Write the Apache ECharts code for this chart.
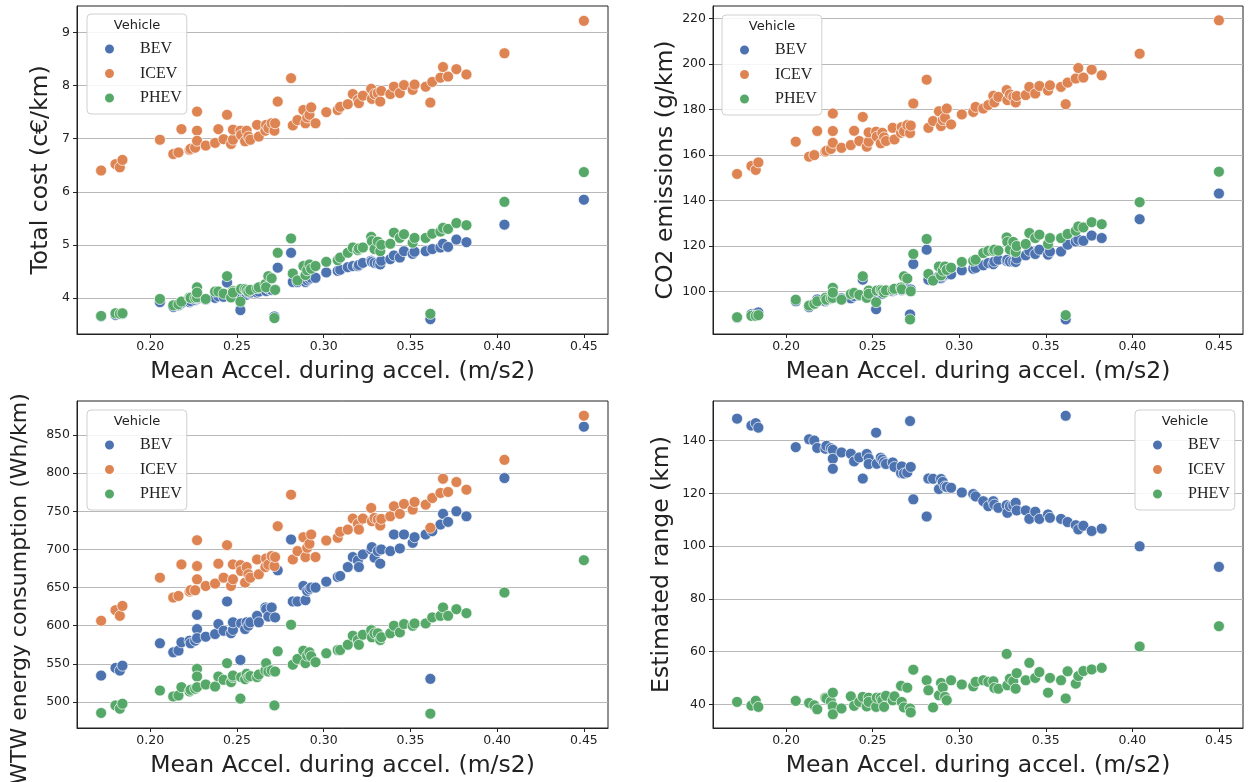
<!DOCTYPE html>
<html>
<head>
<meta charset="utf-8">
<script src="https://cdn.jsdelivr.net/npm/echarts@6/dist/echarts.min.js"></script>
<style>
html,body{margin:0;padding:0;background:#fff;}
#chart{width:1248px;height:782px;}
</style>
</head>
<body>
<div id="chart"></div>
<script>
// ---------- DATA ----------
const accel = [0.1717,0.180,0.1825,0.184,0.2056,0.2133,0.2163,0.218,0.2227,0.2233,
0.2259,0.227,0.227,0.227,0.232,0.2374,0.2393,0.2423,0.2443,0.2466,
0.2477,0.2477,0.252,0.2524,0.2547,0.2556,0.2566,0.2577,0.2616,0.2626,
0.2664,0.2668,0.2681,0.270,0.2716,0.272,0.2735,0.2812,0.2822,0.2849,
0.2883,0.2895,0.2905,0.2918,0.2928,0.2953,0.3015,0.3081,0.3095,0.3139,
0.3168,0.3197,0.3203,0.3226,0.3274,0.3278,0.3293,0.3312,0.3326,0.3332,
0.3384,0.3405,0.3439,0.3463,0.3513,0.3524,0.3588,0.3615,0.3626,0.3673,
0.3688,0.3717,0.3765,0.3823,0.4042,0.450];

const costBEV = [3.65,3.68,3.70,3.70,3.92,3.83,3.86,3.90,3.92,3.94,
3.96,3.98,4.00,4.10,3.97,4.00,4.03,4.02,4.29,4.01,
4.05,4.08,3.77,4.05,4.07,4.06,4.10,4.10,4.10,4.12,
4.15,4.13,4.17,4.15,3.65,4.16,4.57,4.85,4.30,4.30,
4.35,4.30,4.33,4.36,4.38,4.38,4.48,4.51,4.53,4.58,
4.60,4.60,4.62,4.66,4.70,4.68,4.66,4.65,4.63,4.70,
4.73,4.80,4.76,4.88,4.83,4.87,4.88,3.60,4.92,4.95,
5.02,4.96,5.10,5.05,5.38,5.85];
const costICEV = [6.40,6.52,6.46,6.60,6.98,6.71,6.74,7.18,6.79,6.81,
6.83,7.51,7.15,6.96,6.87,6.92,7.18,6.99,7.45,6.90,
6.98,7.17,7.15,7.07,6.95,7.15,7.04,6.98,7.26,7.04,
7.15,7.26,7.20,7.29,7.15,7.29,7.70,8.14,7.25,7.35,
7.54,7.29,7.40,7.45,7.59,7.29,7.50,7.54,7.60,7.65,
7.84,7.73,7.67,7.81,7.94,7.75,7.84,7.86,7.70,7.90,
7.84,7.98,7.86,8.01,7.92,8.02,7.98,7.68,8.07,8.15,
8.35,8.17,8.31,8.21,8.61,9.22];
const costPHEV = [3.66,3.71,3.70,3.71,3.98,3.86,3.88,3.93,4.01,4.00,
4.00,4.20,4.01,4.10,3.98,4.12,4.12,4.08,4.41,4.01,
4.13,4.10,3.93,4.17,4.17,4.15,4.12,4.15,4.18,4.20,
4.26,4.20,4.41,4.37,3.62,4.15,4.85,5.12,4.46,4.33,
4.60,4.43,4.52,4.63,4.55,4.60,4.68,4.71,4.76,4.85,
4.95,4.90,4.93,4.95,5.15,5.07,4.92,5.06,4.88,5.00,
5.02,5.23,5.13,5.20,5.04,5.13,5.13,3.70,5.21,5.25,
5.32,5.30,5.41,5.37,5.81,6.37];

const co2BEV = [88.4,90.0,90.3,90.8,95.7,93.1,94.6,96.5,95.7,96.2,
96.8,98.3,97.5,99.5,97.0,97.0,98.0,98.2,105.2,97.8,
98.8,99.4,92.2,98.8,99.3,99.0,100.0,100.2,100.2,100.6,
100.9,100.6,101.5,101.2,89.9,100.9,112.1,118.4,105.2,105.5,
106.7,105.8,106.5,107.2,107.7,107.5,109.3,110.0,110.4,111.5,
112.5,112.0,113.2,114.0,113.5,114.0,113.2,113.2,113.0,114.5,
115.9,117.9,116.5,118.4,116.2,117.6,117.6,87.7,120.6,122.0,
122.8,122.3,124.6,123.5,131.8,143.1];
const co2ICEV = [151.7,155.2,153.5,156.8,165.9,159.3,160.0,170.6,161.5,161.9,
162.7,178.3,170.6,165.4,163.2,164.4,170.7,166.2,176.8,163.7,
165.9,170.0,170.3,168.1,165.2,169.8,167.8,166.2,172.0,166.9,
169.8,172.3,170.5,173.2,169.7,173.0,182.7,193.2,172.0,175.0,
179.3,172.8,175.4,176.4,180.5,173.5,177.9,179.0,181.2,180.5,
182.0,186.1,183.2,185.6,188.6,184.2,186.7,185.6,183.2,186.0,
186.4,190.0,187.1,190.4,188.4,190.7,190.0,182.4,191.9,193.7,
198.3,194.1,197.6,195.1,204.6,219.3];
const co2PHEV = [88.7,89.3,89.3,89.6,96.4,93.8,94.6,95.7,97.2,96.4,
97.0,101.6,97.2,99.5,96.4,98.9,99.4,98.5,106.7,97.2,
100.4,99.0,95.3,100.4,100.7,100.4,99.5,100.5,100.8,101.2,
101.8,101.0,106.7,105.7,87.7,100.1,116.5,123.1,107.7,104.8,
111.0,107.1,109.2,111.0,109.5,110.5,113.0,113.5,114.0,116.9,
117.9,117.9,118.4,118.0,123.8,121.8,118.4,121.8,117.4,120.0,
120.9,125.7,123.5,125.0,120.9,123.5,123.5,89.6,125.3,126.7,
128.6,128.2,130.5,129.6,139.3,152.7];

const wtwBEV = [534.7,544.7,541.2,547.7,577,565.2,567.4,578.3,580.4,577,
580.4,614.3,595.6,583.8,585.6,589.1,602.2,593.4,631.8,590.2,
594.5,604.5,555.1,603.1,595.6,604.5,600.1,604.5,613,604.5,
623.9,621.7,612,623.9,540,610.9,672.6,713,631.8,631.8,
652.1,633.5,645.6,648,650,650,657.8,663.9,665.2,676.9,
690,685.6,676.9,693.5,700,703,689.2,697.8,681.3,700,
697.8,719.6,701.3,719.6,708.7,716,719.6,530.4,723.9,732.6,
746.6,736.1,750,743.4,793.5,860.8];
const wtwICEV = [606.5,620.4,613,626,663,637,639,680.4,644.8,646.5,
646.5,712.1,678.2,660.9,652.1,655.2,681.3,663,705.6,652.1,
660.9,680.4,679.5,671.7,656.5,676.9,667.4,663,686.9,667.4,
676.9,688.2,680,691.3,678.2,690,730.4,771.7,686.9,697.8,
716,690,702.2,707.4,719.6,690,711.7,715.3,723.1,726,
740.4,733.5,726,740.4,754.3,737,741.3,739.1,731.3,740,
743.4,756.5,746.6,759.6,752.2,762.2,758.7,728.3,767.4,774,
792.6,775.3,788.3,778.3,817.4,875.2];
const wtwPHEV = [485.7,495.6,491.3,497.8,515.1,507.3,508.6,519.5,513.9,516,
517.4,543.5,533.5,519.5,523,520.3,533.5,529.1,550.9,526.1,
532.6,534.7,504.5,532.6,530,537,532.6,534,532.6,536,
541.4,550.9,540,541.4,495.6,540,566.5,601.3,549,556.5,
567.3,550.9,560.8,565.2,560,552.2,563.9,568.2,568.2,575.1,
586.9,581.3,575,588.2,594.3,584.8,590,590,581.3,585,
590,600,591.3,602.2,600,603,603,484.8,610.9,613,
624,613,621.7,616.5,643.5,685.9];

const rangeBEV = [148.3,145.7,146.6,144.9,137.5,140.5,140.0,137.2,136.9,138.0,
137.1,136.5,133.1,129.3,135.5,135.0,132.1,133.6,125.6,134.9,
133.2,131.1,143.0,131.2,133.5,132.8,131.8,131.1,131.7,130.0,
127.7,130.2,127.5,127.9,147.4,130.0,117.7,111.2,125.6,125.5,
121.6,125.4,124.3,122.6,122.4,122.1,120.3,119.7,118.8,117.0,
115.1,117.0,115.7,114.5,115.5,112.6,115.1,115.4,116.4,113.5,
113.5,110.3,113.0,110.3,112.0,110.7,110.3,149.4,109.1,107.9,
106.3,107.7,105.7,106.6,99.9,92.1];
const rangeICEV = [];
const rangePHEV = [40.9,39.5,41.3,39.0,41.3,40.5,39.6,38.1,42.5,42.2,
41.0,44.4,39.2,36.2,38.4,43.0,39.4,40.9,42.8,39.2,
42.5,40.9,39.0,42.5,42.5,41.5,39.0,43.2,41.5,43.0,
47.0,40.9,38.8,46.3,38.4,36.9,53.1,49.1,45.3,38.8,
43.4,48.1,46.3,42.8,41.5,49.1,47.5,46.8,48.5,49.1,
48.5,48.7,46.2,45.9,59.1,47.2,49.7,48.7,45.9,51.8,
49.1,55.7,50.0,52.2,44.4,50.0,49.1,42.2,52.5,47.8,
50.7,52.6,53.2,53.8,61.9,69.6];

const vehicles = ['BEV','ICEV','PHEV'];
const xTicks = [0.20,0.25,0.30,0.35,0.40,0.45];
const costTicks = [4,5,6,7,8,9];
const co2Ticks = [100,120,140,160,180,200,220];
const wtwTicks = [500,550,600,650,700,750,800,850];
const rangeTicks = [40,60,80,100,120,140];

// ---------- STYLE / LAYOUT ----------
const COLORS = {BEV:'#4c72b0', ICEV:'#dd8452', PHEV:'#55a868'};
const FONT = 'DejaVu Sans';
const INK = '#222';
const TITLE_SIZE = 23.5;

const grids = [
  {left:77, top:6, width:531, height:328},
  {left:713, top:6, width:530, height:328},
  {left:77, top:401, width:531, height:327},
  {left:713, top:401, width:530, height:327}
];

function xAxisFor(i){
  return {
    type:'value', gridIndex:i, min:0.1578, max:0.4639,
    axisLine:{show:true, onZero:false, lineStyle:{color:INK, width:1}},
    axisTick:{show:true, length:4, customValues:xTicks, lineStyle:{color:INK}},
    axisLabel:{customValues:xTicks, fontFamily:FONT, fontSize:12.5, color:INK, margin:6,
      formatter:v=>v.toFixed(2)},
    splitLine:{show:false},
    name:'Mean Accel. during accel. (m/s2)', nameLocation:'middle', nameGap:26,
    nameTextStyle:{fontFamily:FONT, fontSize:TITLE_SIZE, color:INK}
  };
}
function yAxisFor(i, min, max, ticks, name, gap, size, pad){
  return {
    type:'value', gridIndex:i, min:min, max:max,
    axisLine:{show:true, onZero:false, lineStyle:{color:INK, width:1}},
    axisTick:{show:true, length:4, customValues:ticks, lineStyle:{color:INK}},
    axisLabel:{customValues:ticks, fontFamily:FONT, fontSize:12.5, color:INK, margin:7},
    splitLine:{show:true, lineStyle:{color:'#b0b0b0', width:0.9}},
    name:name, nameLocation:'middle', nameGap:gap,
    nameTextStyle:{fontFamily:FONT, fontSize:size, color:INK, padding:pad}
  };
}

const panels = [
  {data:{BEV:costBEV, ICEV:costICEV, PHEV:costPHEV}},
  {data:{BEV:co2BEV, ICEV:co2ICEV, PHEV:co2PHEV}},
  {data:{BEV:wtwBEV, ICEV:wtwICEV, PHEV:wtwPHEV}},
  {data:{BEV:rangeBEV, ICEV:rangeICEV, PHEV:rangePHEV}}
];

const series = [];
panels.forEach((p, gi) => {
  vehicles.forEach((v, k) => {
    series.push({
      type:'scatter', name:v, xAxisIndex:gi, yAxisIndex:gi,
      symbol:'circle', symbolSize:11, z:2+k,
      itemStyle:{color:COLORS[v], borderColor:'#ffffff', borderWidth:0.7, opacity:1},
      emphasis:{disabled:true},
      data:p.data[v].map((y, idx) => [accel[idx], y])
    });
  });
});

function legendAt(left, top){
  return {
    left:left, top:top, orient:'vertical', data:vehicles,
    icon:'circle', itemWidth:11, itemHeight:11, itemGap:8.5,
    padding:[27, 5, 8, 16],
    borderColor:'#d0d0d0', borderWidth:1, borderRadius:4,
    backgroundColor:'rgba(255,255,255,0.85)',
    textStyle:{fontFamily:'Liberation Serif', fontSize:16, color:INK, lineHeight:16, padding:[0,0,0,20]},
    selectedMode:false
  };
}
const legendBoxes = [[87,14],[722,15],[87,410],[1135,410]];

const option = {
  animation:false,
  backgroundColor:'#ffffff',
  grid:grids.map(g => Object.assign({show:true, borderColor:INK, borderWidth:1, backgroundColor:'transparent',
    containLabel:false, outerBoundsMode:'none'}, g)),
  xAxis:[0,1,2,3].map(xAxisFor),
  yAxis:[
    yAxisFor(0, 3.32, 9.50, costTicks, 'Total cost (c€/km)', 24, TITLE_SIZE, 0),
    yAxisFor(1, 81.3, 225.6, co2Ticks, 'CO2 emissions (g/km)', 24, TITLE_SIZE, 0),
    yAxisFor(2, 466, 894.5, wtwTicks, 'WTW energy consumption (Wh/km)', 46, 22, [0, 49, 0, 0]),
    yAxisFor(3, 31, 155, rangeTicks, 'Estimated range (km)', 39, TITLE_SIZE, 0)
  ],
  legend:legendBoxes.map(b => legendAt(b[0], b[1])),
  graphic:legendBoxes.map(b => ({
    type:'text', x:b[0]+50, y:b[1]+12, z:100,
    style:{text:'Vehicle', font:'13px "DejaVu Sans"', fill:INK, textAlign:'center', textVerticalAlign:'middle'}
  })),
  series:series
};

const chart = echarts.init(document.getElementById('chart'), null, {renderer:'canvas'});
chart.setOption(option);
</script>
</body>
</html>
